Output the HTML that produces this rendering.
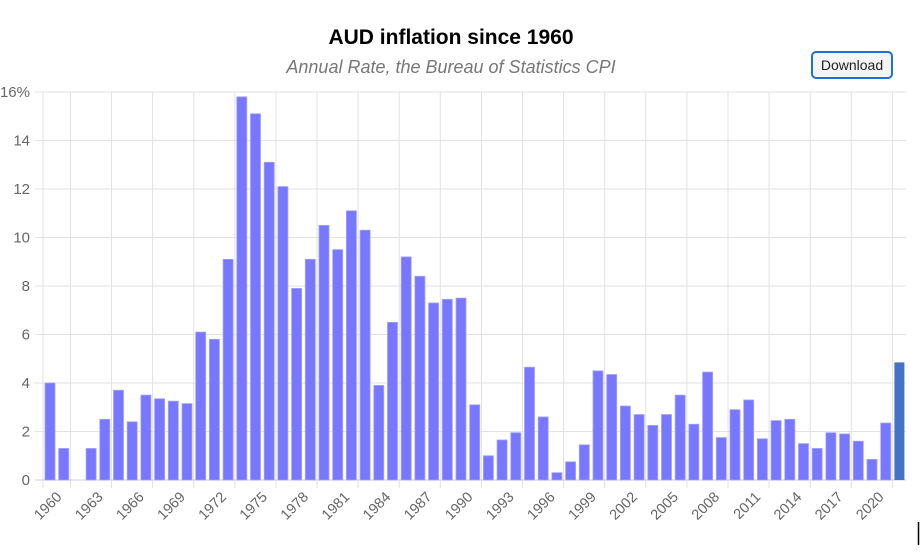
<!DOCTYPE html>
<html><head><meta charset="utf-8"><style>
body{margin:0;background:#fff;width:920px;height:559px;overflow:hidden;font-family:"Liberation Sans",sans-serif}
.btn{position:absolute;left:811px;top:51px;width:82px;height:28px;border:2px solid #1f6fd6;border-radius:5px;box-sizing:border-box;font-size:14px;text-align:center;line-height:24px;background:#f4f4f4;color:#222}
</style></head><body>
<div class="btn">Download</div>
<svg width="920" height="559" style="position:absolute;left:0;top:0">
<text x="451" y="44" text-anchor="middle" font-size="21" font-weight="bold" fill="#000">AUD inflation since 1960</text>
<text x="451" y="73" text-anchor="middle" font-size="18" font-style="italic" fill="#777">Annual Rate, the Bureau of Statistics CPI</text>
<g id="g"></g>
<line x1="918.5" y1="522" x2="918.5" y2="545" stroke="#000" stroke-width="1.5"/>
</svg>
<script>
var v=[4.0,1.3,0,1.3,2.5,3.7,2.4,3.5,3.35,3.25,3.15,6.1,5.8,9.1,15.8,15.1,13.1,12.1,7.9,9.1,10.5,9.5,11.1,10.3,3.9,6.5,9.2,8.4,7.3,7.45,7.5,3.1,1.0,1.65,1.95,4.65,2.6,0.3,0.75,1.45,4.5,4.35,3.05,2.7,2.25,2.7,3.5,2.3,4.45,1.75,2.9,3.3,1.7,2.45,2.5,1.5,1.3,1.95,1.9,1.6,0.85,2.35,4.85];
var x0=43,w=13.7,y0=480,s=24.25,h='';
for(var i=0;i<=8;i++){var y=y0-i*2*s;h+='<line x1="35" x2="906" y1="'+y+'" y2="'+y+'" stroke="#e2e2e2"/>';
h+='<text x="30" y="'+(y+5)+'" text-anchor="end" font-size="15" fill="#666">'+(i==8?'16%':i*2)+'</text>';}
for(var k=2;k<63;k+=3){var x=x0+k*w;h+='<line x1="'+x+'" x2="'+x+'" y1="92" y2="488" stroke="#e2e2e2"/>';}
h+='<line x1="'+x0+'" x2="'+x0+'" y1="92" y2="488" stroke="#e2e2e2"/>';
h+='<line x1="35" x2="906" y1="480" y2="480" stroke="#ccc"/>';
for(var i=0;i<63;i++){var x=x0+i*w+2,hh=v[i]*s;if(hh>0)h+='<rect x="'+x+'" y="'+(y0-hh)+'" width="10" height="'+hh+'" fill="'+(i==62?'#4472c4':'#7777ff')+'" stroke="'+(i==62?'none':'#a0a0ff')+'" stroke-width="0.8"/>';
if(i%3==0){var cx=x0+i*w+w/2+5,cy=490;h+='<text transform="translate('+cx+','+cy+') rotate(-45)" text-anchor="end" dy="11" font-size="14.5" fill="#666">'+(1960+i)+'</text>';}}
document.getElementById('g').innerHTML=h;
</script>
</body></html>
